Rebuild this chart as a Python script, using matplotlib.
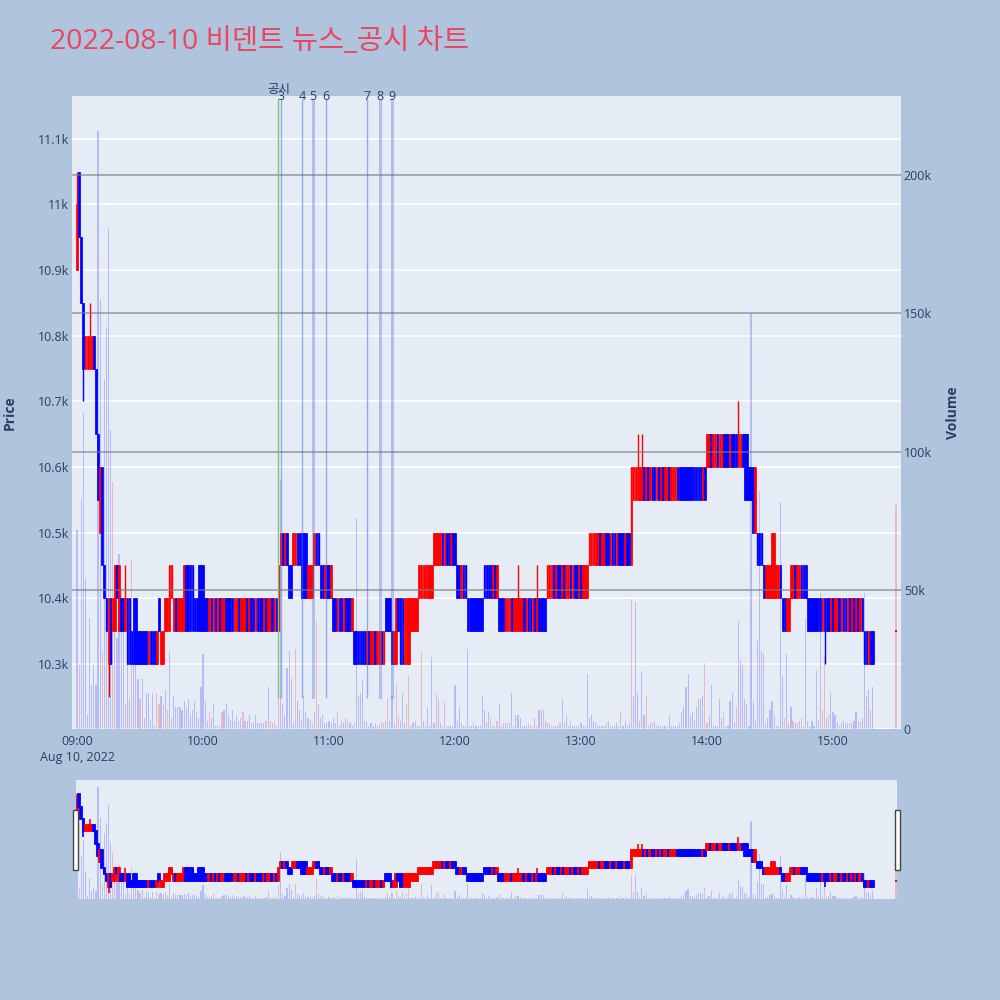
import numpy as np
import matplotlib
matplotlib.use("Agg")
import matplotlib.pyplot as plt
import matplotlib.transforms as mtransforms
from matplotlib.patches import Rectangle

plt.rcParams['font.family'] = ['Open Sans', 'Noto Sans CJK KR', 'DejaVu Sans']

TITLE = "2022-08-10 비덴트 뉴스_공시 차트"
DATE_LABEL = "Aug 10, 2022"

# ---- 1-minute candles from 09:00, as segments: (low, high, one direction char per minute) ----
seg_lo = [10900, 10950, 10850, 10750, 10750, 10650, 10550, 10500, 10450, 10400,
          10350, 10300, 10350, 10350, 10400, 10350, 10350, 10300, 10300, 10300,
          10300, 10350, 10300, 10350, 10350, 10400, 10350, 10350, 10350, 10350,
          10350, 10350, 10450, 10400, 10450, 10400, 10400, 10450, 10400, 10350,
          10300, 10350, 10300, 10300, 10350, 10300, 10350, 10400, 10450, 10400,
          10350, 10400, 10350, 10400, 10450, 10450, 10550, 10600, 10550, 10550,
          10500, 10450, 10400, 10400, 10400, 10350, 10400, 10350, 10300]
seg_hi = [11000, 11050, 10950, 10850, 10800, 10750, 10650, 10600, 10600, 10450,
          10400, 10400, 10400, 10450, 10450, 10450, 10400, 10400, 10350, 10400,
          10350, 10400, 10350, 10400, 10450, 10450, 10400, 10450, 10400, 10450,
          10400, 10450, 10500, 10450, 10500, 10500, 10450, 10500, 10450, 10400,
          10350, 10400, 10350, 10400, 10400, 10400, 10400, 10450, 10500, 10450,
          10400, 10450, 10400, 10450, 10500, 10600, 10600, 10650, 10650, 10600,
          10600, 10500, 10450, 10500, 10450, 10400, 10450, 10400, 10350]
seg_dir = ['r', 'b', 'b', 'b', 'rrrrb', 'b', 'b', 'r', 'b', 'b',
           'b', 'rb', 'r', 'r', 'b', 'r', 'bbr', 'bb', 'b', 'bb',
           'bbbbbrbbbr', 'b', 'rr', 'rr', 'r', 'r', 'rbrrr', 'rbbbb', 'bb', 'bbb',
           'bbrbrbrbrrbbbbrrbrrrbrbbrbbbrbrrbrb', 'r', 'rbrb', 'bb', 'rrbb', 'bbb', 'rrr', 'rbb', 'bbrbbr', 'bbrbbrbbbr',
           'bbbbbbrbrrbrrbr', 'bbb', 'br', 'r', 'b', 'bbrrr', 'rrrr', 'rrrrrrr', 'rrrrbrbbrbb', 'bbrbb',
           'bbbbbbbb', 'bbbbrbr', 'bbbrrrbrrrrrbrbbrbrbbbb', 'rrrbrbbrbrrbrbbrbrrr', 'rrrrrbrrbbrbbrbbbrbb',
           'r', 'rrrrrbrbrbbrbrbrrbrrrbbbbbbbbbbbbrb', 'rrbrrbrrbbbrbbbrrb', 'bb', 'bb',
           'br', 'bbb', 'brrr', 'rr', 'rrb', 'bbrr', 'rrbrrbbb', 'bbbbbbbrbbbrbrrbrbbrbrbrbrb', 'bbrbb']
wick_hi = {0: 11050, 6: 10850, 23: 10450, 210: 10450, 219: 10450, 267: 10650, 269: 10650, 315: 10700}
wick_lo = {3: 10700, 15: 10250, 356: 10300}

# closing auction print at 15:30
auction_minute = 390
auction_price = 10350
auction_volume_k = 81

# ---- volume per minute (thousands of shares) ----
volume_k = [72, 23, 83, 114, 54, 5, 40, 16, 23, 16,
            216, 155, 28, 126, 145, 181, 108, 89, 52, 33,
            63, 51, 43, 9, 28, 11, 61, 28, 23, 18,
            11, 18, 4, 13, 13, 3, 13, 1, 13, 9,
            12, 9, 14, 7, 28, 4, 12, 8, 8, 8,
            7, 10, 8, 11, 5, 7, 10, 6, 4, 15,
            27, 10, 3, 6, 4, 9, 1, 1, 1, 6,
            7, 9, 5, 3, 7, 3, 5, 3, 4, 6,
            3, 3, 5, 2, 2, 5, 2, 2, 2, 2,
            3, 15, 3, 2, 3, 1, 27, 90, 9, 5,
            22, 28, 18, 2, 29, 10, 7, 3, 12, 6,
            4, 3, 2, 6, 39, 9, 4, 5, 2, 2,
            3, 2, 4, 2, 6, 1, 3, 2, 4, 3,
            2, 1, 2, 76, 12, 13, 18, 3, 3, 1,
            2, 1, 2, 1, 2, 3, 2, 3, 11, 3,
            12, 2, 16, 5, 3, 13, 2, 9, 19, 1,
            2, 3, 1, 1, 28, 3, 1, 8, 1, 26,
            2, 13, 11, 2, 1, 10, 1, 1, 1, 1,
            16, 3, 8, 2, 1, 1, 29, 1, 1, 2,
            1, 1, 1, 12, 7, 2, 6, 4, 1, 1,
            3, 9, 1, 2, 2, 2, 2, 13, 1, 5,
            5, 4, 1, 1, 1, 2, 1, 1, 4, 1,
            7, 7, 7, 3, 2, 2, 1, 1, 1, 1,
            2, 11, 2, 5, 1, 3, 1, 1, 1, 1,
            2, 1, 1, 20, 4, 5, 3, 2, 1, 1,
            1, 1, 2, 3, 1, 1, 1, 2, 1, 6,
            1, 3, 1, 2, 47, 12, 46, 13, 3, 21,
            5, 12, 1, 2, 2, 3, 1, 1, 1, 1,
            1, 1, 5, 1, 1, 1, 1, 2, 6, 8,
            15, 20, 5, 6, 3, 8, 11, 11, 12, 24,
            2, 5, 16, 1, 1, 1, 11, 4, 6, 1,
            1, 10, 13, 2, 8, 39, 25, 23, 11, 9,
            1, 150, 10, 3, 32, 86, 28, 27, 2, 4,
            7, 10, 5, 1, 1, 82, 19, 4, 27, 2,
            8, 3, 2, 2, 3, 4, 1, 40, 3, 1,
            3, 1, 21, 3, 49, 7, 26, 4, 5, 13,
            6, 5, 2, 1, 2, 3, 2, 2, 2, 2,
            3, 6, 3, 3, 4, 49, 12, 14, 7, 15]
volume_red_minutes = [1, 12, 17, 23, 26, 30, 38, 39, 41, 43, 45, 63, 68, 69, 77, 79, 83, 90, 92, 94,
                      96, 104, 112, 114, 124, 129, 132, 144, 145, 148, 152, 153, 157, 158, 164, 171,
                      175, 177, 197, 200, 205, 215, 217, 219, 222, 225, 230, 239, 252, 259, 264, 271,
                      274, 281, 299, 300, 308, 314, 328, 337, 341, 343, 345, 355, 356, 358, 363, 366,
                      368, 373, 378]

# ---- news / disclosure markers ----
news_labels = ['공시', '3', '4', '5', '6', '7', '8', '9']
news_times = ['10:35:55', '10:37:05', '10:47:20', '10:52:10', '10:58:40', '11:18:10', '11:24:05', '11:29:55']
news_width = [1.0, 1.0, 1.0, 2.2, 1.0, 1.0, 2.2, 2.2]

time_labels = ['09:00', '10:00', '11:00', '12:00', '13:00', '14:00', '15:00']
price_ticks = [10300, 10400, 10500, 10600, 10700, 10800, 10900, 11000, 11100]
price_labels = ['10.3k', '10.4k', '10.5k', '10.6k', '10.7k', '10.8k', '10.9k', '11k', '11.1k']
vol_ticks = [0, 50000, 100000, 150000, 200000]
vol_labels = ['0', '50k', '100k', '150k', '200k']

PRICE_RANGE = (10201, 11165)
VOL_RANGE = (0, 228500)
X_RANGE = (-2.4, 392.4)
SLIDER_X_RANGE = (-0.5, 390.5)

BG = '#b0c4de'
PLOT_BG = '#e5ecf6'
TXT = '#2a3f5f'
UP = '#ff0000'
DOWN = '#0000ff'


def to_min(t):
    parts = [int(p) for p in t.split(':')]
    h, m = parts[0], parts[1]
    s = parts[2] if len(parts) > 2 else 0
    return (h - 9) * 60 + m + s / 60.0


# build OHLC
opens, closes, cols = [], [], []
for lo, hi, d in zip(seg_lo, seg_hi, seg_dir):
    for ch in d:
        if ch == 'r':
            opens.append(lo); closes.append(hi); cols.append(UP)
        else:
            opens.append(hi); closes.append(lo); cols.append(DOWN)
opens = np.array(opens, dtype=float)
closes = np.array(closes, dtype=float)
minutes = np.arange(len(opens))
highs = np.maximum(opens, closes)
lows = np.minimum(opens, closes)
for k, v in wick_hi.items():
    highs[k] = v
for k, v in wick_lo.items():
    lows[k] = v

vol = np.array(volume_k, dtype=float) * 1000
vmins = np.arange(len(vol))
vcols = [(1, 0, 0, 0.22) if m in volume_red_minutes else (0, 0, 1, 0.2) for m in vmins]


def draw_volume(ax, width):
    ax.bar(vmins, vol, width=width, color=vcols, linewidth=0, zorder=1)
    ax.bar([auction_minute], [auction_volume_k * 1000], width=width,
           color=[(1, 0, 0, 0.22)], linewidth=0, zorder=1)


def draw_candles(ax, width, wick_lw, edge_lw):
    ax.vlines(minutes, lows, highs, colors=cols, linewidth=wick_lw, zorder=3)
    ax.bar(minutes, closes - opens, bottom=opens, width=width, color=cols,
           edgecolor=cols, linewidth=edge_lw, zorder=4)
    ax.plot([auction_minute - 0.4, auction_minute + 0.4], [auction_price, auction_price],
            color=UP, lw=1.5, zorder=4, solid_capstyle='butt')


fig = plt.figure(figsize=(10, 10), dpi=100, facecolor=BG)

# ---------------- main chart ----------------
rect = [0.072, 0.271, 0.829, 0.633]
axv = fig.add_axes(rect, facecolor=PLOT_BG)
axp = fig.add_axes(rect, sharex=axv)
axp.patch.set_visible(False)

# price gridlines (white) under everything
grid_tr = mtransforms.blended_transform_factory(axv.transAxes, axp.transData)
for p in price_ticks:
    axv.plot([0, 1], [p, p], transform=grid_tr, color='white', lw=1.1, zorder=0.5)

draw_volume(axv, 0.55)
axv.axhline(0, color='white', lw=2, zorder=0.6)

draw_candles(axp, 0.8, 1.0, 0.5)

# volume gridlines (grey) over the candles
vgrid_tr = mtransforms.blended_transform_factory(axp.transAxes, axv.transData)
for v in vol_ticks[1:]:
    axp.plot([0, 1], [v, v], transform=vgrid_tr, color='#7a7a7a', lw=1.1, alpha=0.75, zorder=6)

axv.set_ylim(*VOL_RANGE)
axp.set_ylim(*PRICE_RANGE)
axv.set_xlim(*X_RANGE)

# news lines
day_low = lows.min()
lo_frac = (day_low - PRICE_RANGE[0]) / (PRICE_RANGE[1] - PRICE_RANGE[0])
lab_tr = mtransforms.blended_transform_factory(axp.transData, axp.transAxes)
for lab, t, w in zip(news_labels, news_times, news_width):
    x = to_min(t)
    if lab == '공시':
        axp.axvline(x, ymin=lo_frac, ymax=0.994, color='#78c878', lw=1.0, zorder=7)
        axp.text(x, 1.0095, lab, transform=lab_tr, ha='center', va='center',
                 fontsize=9, color=TXT, zorder=8, clip_on=False)
    else:
        axp.axvline(x, ymin=lo_frac, ymax=0.994, color='royalblue',
                    alpha=0.5 if w < 2 else 0.33, lw=w, zorder=7)
        axp.text(x, 1.0, lab, transform=lab_tr, ha='center', va='center',
                 fontsize=9, color=TXT, zorder=8, clip_on=False)

# axes styling
tick_mins = [to_min(t) for t in time_labels]
for a in (axv, axp):
    for s in a.spines.values():
        s.set_visible(False)
axp.set_xticks(tick_mins)
axp.set_xticklabels(time_labels)
axp.tick_params(axis='x', length=0, pad=4.5, labelsize=9, labelcolor=TXT)
axv.tick_params(axis='x', bottom=False, labelbottom=False)
axp.set_yticks(price_ticks)
axp.set_yticklabels(price_labels)
axp.tick_params(axis='y', length=0, pad=2, labelsize=9, labelcolor=TXT)
axv.yaxis.tick_right()
axv.set_yticks(vol_ticks)
axv.set_yticklabels(vol_labels)
axv.tick_params(axis='y', length=0, pad=2, labelsize=9, labelcolor=TXT)
axv.grid(False); axp.grid(False)

fig.text(0.077, 0.242, DATE_LABEL, ha='center', va='center', fontsize=9, color=TXT)
fig.text(0.010, 0.587, 'Price', rotation=90, ha='center', va='center',
         fontsize=10, fontweight='bold', color=TXT)
fig.text(0.953, 0.587, 'Volume', rotation=90, ha='center', va='center',
         fontsize=10, fontweight='bold', color=TXT)
fig.text(0.05, 0.958, TITLE, ha='left', va='center', fontsize=20.5, color='#e8485f')

# ---------------- range slider ----------------
srect = [0.076, 0.101, 0.821, 0.119]
asv = fig.add_axes(srect, facecolor=PLOT_BG)
asp = fig.add_axes(srect, sharex=asv)
asp.patch.set_visible(False)
draw_volume(asv, 0.55)
draw_candles(asp, 0.8, 1.2, 1.3)
asv.set_ylim(*VOL_RANGE)
asp.set_ylim(*PRICE_RANGE)
asv.set_xlim(*SLIDER_X_RANGE)
for a in (asv, asp):
    a.set_xticks([]); a.set_yticks([])
    for s in a.spines.values():
        s.set_visible(False)

for hx in (0.0733, 0.8953):
    fig.add_artist(Rectangle((hx, 0.130), 0.0044, 0.060, transform=fig.transFigure,
                             facecolor='white', edgecolor='#444444', lw=1.0, zorder=10))

fig.savefig('out.png', dpi=100, facecolor=BG)
